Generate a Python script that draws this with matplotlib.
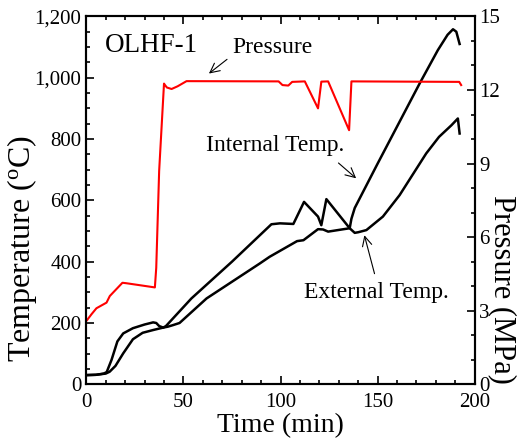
import matplotlib.pyplot as plt
from matplotlib.ticker import MultipleLocator, FuncFormatter

plt.rcParams['font.family'] = ['Liberation Serif', 'DejaVu Serif']

# pressure (MPa) vs time (min)
t_p = [0.4, 2.7, 5.2, 10.4, 12.1, 18.6, 20.7, 35.3, 36.0, 37.5, 40.0, 40.5, 41.5,
       43.9, 47.0, 51.6, 99.0, 101.0, 104.0, 106.0, 112.5, 119.3, 121.0, 124.5,
       135.3, 136.5, 192.0, 193.0]
p = [2.62, 2.86, 3.10, 3.33, 3.60, 4.14, 4.12, 3.95, 4.75, 8.7, 12.26, 12.2, 12.1,
     12.04, 12.15, 12.36, 12.35, 12.2, 12.18, 12.33, 12.35, 11.25, 12.34, 12.35,
     10.36, 12.35, 12.33, 12.2]

# internal temperature (C)
t_in = [0, 5, 9, 10.5, 13, 16, 19, 24, 30, 34.4, 36, 37.5, 39.6, 41, 54.1, 75,
        95.3, 99.7, 106.6, 112.1, 119.3, 121, 123.6, 135.6, 136.5, 138.2, 150,
        171.6, 181, 186, 188.8, 190.5, 192.2]
T_in = [30, 31, 35, 40, 80, 140, 166, 183, 195, 202, 200, 190, 185, 190, 280, 400,
        522, 525, 523, 595, 547, 519, 604, 509, 540, 575, 720,
        981, 1090, 1140, 1158, 1150, 1110]

# external temperature (C)
t_ex = [0, 5, 10, 12, 15, 19, 24, 29, 34.4, 39.6, 42, 44.6, 48, 61.9, 89.3, 94.4,
        108.5, 111.8, 119.3, 121.9, 124.5, 135.6, 138.2, 140, 144.2, 152.7, 161.3,
        175, 181.6, 188, 191.3, 192.2]
T_ex = [30, 31, 35, 41, 60, 101, 147, 168, 177, 185, 188, 193, 200, 280, 394, 416,
        467, 470, 506, 505, 498, 509, 494, 496, 503, 547, 617,
        753, 807, 845, 867, 818]

fig = plt.figure(figsize=(5.2, 4.43), dpi=100)
ax = fig.add_axes([0.166, 0.1325, 0.747, 0.8305])
ax2 = ax.twinx()

ax.plot(t_in, T_in, color='black', lw=1.8)
ax.plot(t_ex, T_ex, color='black', lw=1.8)
ax2.plot(t_p, p, color='red', lw=1.5)

ax.set_xlim(0, 200)
ax.set_ylim(0, 1200)
ax2.set_ylim(0, 15)

ax.xaxis.set_major_locator(MultipleLocator(50))
ax.xaxis.set_minor_locator(MultipleLocator(10))
ax.yaxis.set_major_locator(MultipleLocator(200))
ax.yaxis.set_minor_locator(MultipleLocator(50))
ax.yaxis.set_major_formatter(FuncFormatter(lambda v, pos: f'{int(v):,}'))
ax2.yaxis.set_major_locator(MultipleLocator(3))
ax2.yaxis.set_minor_locator(MultipleLocator(1))

for a in (ax, ax2):
    a.tick_params(which='both', direction='in', labelsize=15, width=1.2)
    a.tick_params(which='major', length=6)
    a.tick_params(which='minor', length=3)
    for s in a.spines.values():
        s.set_linewidth(1.5)
ax.tick_params(top=True, which='both', labeltop=False)
ax.tick_params(axis='x', pad=6)
ax2.tick_params(pad=3)

ax.set_xlabel('Time (min)', fontsize=20, labelpad=1)
ax.text(-0.166, 0.368, 'Temperature ($\\mathregular{^o}$C)', fontsize=23,
        rotation=90, ha='center', va='center', transform=ax.transAxes)
ax.text(1.072, 0.259, 'Pressure (MPa)', fontsize=22,
        rotation=270, ha='center', va='center', transform=ax.transAxes)

ax.text(9.5, 1105, 'OLHF-1', fontsize=19.5, va='center')
ax.annotate('Pressure', xy=(62, 1008), xytext=(75, 1100), fontsize=17,
            ha='left', va='center',
            arrowprops=dict(arrowstyle='->', color='black', lw=0.8,
                            relpos=(0, 0.1), shrinkA=2))
ax.annotate('Internal Temp.', xy=(140, 666), xytext=(97, 780), fontsize=17,
            ha='center', va='center',
            arrowprops=dict(arrowstyle='->', color='black', lw=0.8,
                            relpos=(0.9, 0), shrinkA=5))
ax.annotate('External Temp.', xy=(142.8, 495), xytext=(149.5, 300), fontsize=17,
            ha='center', va='center',
            arrowprops=dict(arrowstyle='->', color='black', lw=0.8,
                            relpos=(0.5, 1), shrinkA=4))

fig.savefig('out.png', dpi=100)
